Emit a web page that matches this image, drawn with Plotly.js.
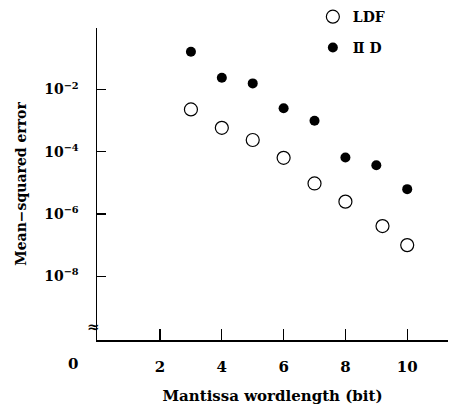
<!DOCTYPE html>
<html><head><meta charset="utf-8">
<script src="https://cdn.plot.ly/plotly-3.0.1.min.js"></script>
<style>body{margin:0;background:#fff}#c{width:451px;height:408px}</style>
</head><body><div id="c"></div>
<script>
const wordlength = [3, 4, 5, 6, 7, 8, 9, 10];
const wordlengthLDF = [3, 4, 5, 6, 7, 8, 9.2, 10];
const mseLDF = [2.3e-3, 5.9e-4, 2.4e-4, 6.4e-5, 9.6e-6, 2.5e-6, 4.1e-7, 1.0e-7];
const mseIID = [0.164, 0.0239, 0.0158, 2.5e-3, 9.9e-4, 6.6e-5, 3.7e-5, 6.3e-6];
const xTicks = [2, 4, 6, 8, 10];
const yTicks = [1e-8, 1e-6, 1e-4, 1e-2];
const yTickText = ['10<sup>−8</sup>', '10<sup>−6</sup>', '10<sup>−4</sup>', '10<sup>−2</sup>'];

const F = 'DejaVu Serif';
const data = [
  {x: wordlengthLDF, y: mseLDF, name: 'LDF', mode: 'markers', type: 'scatter',
   marker: {symbol: 'circle-open', size: 13, color: '#000', line: {width: 1.2, color: '#000'}},
   legend: 'legend'},
  {x: wordlength, y: mseIID, name: 'Ⅱ D', mode: 'markers', type: 'scatter',
   marker: {symbol: 'circle', size: 10, color: '#000'},
   legend: 'legend2'}
];
const layout = {
  width: 451, height: 408,
  margin: {l: 97, r: 3, t: 28, b: 68, autoexpand: false},
  paper_bgcolor: '#fff', plot_bgcolor: '#fff',
  font: {family: F, color: '#000', size: 14, weight: 'bold'},
  showlegend: true,
  legend: {x: 0.615, y: 1.035, xanchor: 'left', yanchor: 'middle', bgcolor: 'rgba(0,0,0,0)',
           font: {family: F, size: 14, weight: 'bold'}, itemwidth: 30},
  legend2: {x: 0.615, y: 0.936, xanchor: 'left', yanchor: 'middle', bgcolor: 'rgba(0,0,0,0)',
           font: {family: F, size: 14, weight: 'bold'}, itemwidth: 30},
  xaxis: {
    range: [-0.04, 11.32], tickvals: xTicks, ticks: 'inside', ticklen: 11, tickwidth: 1.3,
    tickcolor: '#000', showline: true, linecolor: '#000', linewidth: 1.5, showgrid: false,
    zeroline: false, ticklabelstandoff: 12, tickfont: {family: F, size: 15, weight: 'bold'},
    title: {text: 'Mantissa wordlength (bit)', font: {family: F, size: 15, weight: 'bold'}, standoff: 16}
  },
  yaxis: {
    type: 'log', range: [-10.05, -0.02], tickvals: yTicks, ticktext: yTickText,
    ticks: 'inside', ticklen: 9, tickwidth: 1.3, tickcolor: '#000',
    showline: true, linecolor: '#000', linewidth: 1.5, showgrid: false, zeroline: false,
    ticklabelstandoff: 14, tickfont: {family: F, size: 14, weight: 'bold'},
    title: {text: 'Mean−squared error', font: {family: F, size: 14, weight: 'bold'}, standoff: 14}
  },
  annotations: [
    {text: '0', xref: 'paper', yref: 'paper', x: -0.068, y: -0.077, xanchor: 'center', yanchor: 'middle',
     showarrow: false, font: {family: F, size: 15, weight: 'bold'}},
    {text: '≈', xref: 'paper', yref: 'paper', x: -0.011, y: 0.042, xanchor: 'center', yanchor: 'middle',
     showarrow: false, font: {family: F, size: 15, weight: 'bold'}}
  ]
};
Plotly.newPlot('c', data, layout, {displayModeBar: false, staticPlot: true});
</script></body></html>
